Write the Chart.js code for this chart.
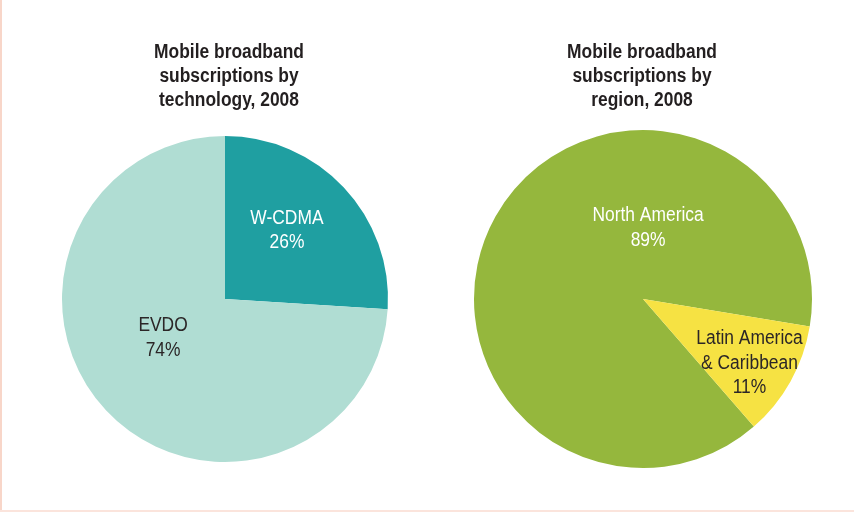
<!DOCTYPE html>
<html>
<head>
<meta charset="utf-8">
<script src="https://cdn.jsdelivr.net/npm/chart.js@4"></script>
<style>
  html, body { margin: 0; padding: 0; background: #fff; }
  body { width: 854px; height: 513px; position: relative; overflow: hidden; }
  .box-left { position: absolute; left: 0; top: 0; width: 2px; height: 511px; background: #f8d6c9; }
  .box-bottom { position: absolute; left: 0; top: 510px; width: 854px; height: 2px; background: #fbe4dc; }
  #techWrap { position: absolute; left: 0; top: 0; width: 450px; height: 513px; }
  #regionWrap { position: absolute; left: 431px; top: 0; width: 424px; height: 513px; }
</style>
</head>
<body>
<div class="box-left"></div>
<div class="box-bottom"></div>
<div id="techWrap"><canvas id="techChart"></canvas></div>
<div id="regionWrap"><canvas id="regionChart"></canvas></div>

<script>
// datos de los gráficos
const techLabels = ['W-CDMA', 'EVDO'];
const techValues = [26, 74];
const regionLabels = ['North America', 'Latin America\n& Caribbean'];
const regionValues = [89, 11];

const FONT = '"Liberation Sans", Arial, sans-serif';
const SQUEEZE = 0.87; // la fuente original es condensada

// dibuja texto centrado y estrechado horizontalmente
function narrowText(ctx, text, x, y) {
    ctx.save();
    ctx.translate(x, y);
    ctx.scale(SQUEEZE, 1);
    ctx.fillText(text, 0, 0);
    ctx.restore();
}

// títulos y etiquetas dentro de cada sector (desplazamiento relativo al radio)
const narrowLabels = {
    id: 'narrowLabels',
    afterDatasetsDraw(chart, args, opts) {
        const ctx = chart.ctx;
        const arc = chart.getDatasetMeta(0).data[0];
        const cx = arc.x, cy = arc.y, r = arc.outerRadius;
        const ds = chart.data.datasets[0];
        ctx.save();
        ctx.textAlign = 'center';
        ctx.textBaseline = 'middle';

        // título
        ctx.font = 'bold 20px ' + FONT;
        ctx.fillStyle = '#231f20';
        opts.title.forEach(function(line, k) {
            narrowText(ctx, line, chart.width / 2 + opts.titleDx, opts.titleY + k * 24);
        });

        // etiquetas
        ctx.font = '20px ' + FONT;
        chart.data.labels.forEach(function(label, i) {
            const lines = label.split('\n').concat([ds.data[i] + '%']);
            const off = opts.offsets[i];
            const x = cx + off[0] * r;
            const y = cy + off[1] * r;
            const lh = 24.5;
            ctx.fillStyle = opts.colors[i];
            lines.forEach(function(line, k) {
                narrowText(ctx, line, x, y + (k - (lines.length - 1) / 2) * lh);
            });
        });
        ctx.restore();
    }
};

function makePie(id, labels, values, colors, rotation, padTop, padBottom, labelOpts) {
    return new Chart(document.getElementById(id).getContext('2d'), {
        type: 'pie',
        data: {
            labels: labels,
            datasets: [{
                data: values,
                backgroundColor: colors,
                borderWidth: 0
            }]
        },
        options: {
            responsive: true,
            maintainAspectRatio: false,
            animation: false,
            rotation: rotation,
            layout: { padding: { top: padTop, bottom: padBottom, left: 0, right: 0 } },
            plugins: {
                legend: { display: false },
                tooltip: { enabled: false },
                title: { display: false },
                narrowLabels: labelOpts
            }
        },
        plugins: [narrowLabels]
    });
}

makePie('techChart', techLabels, techValues, ['#1f9fa1', '#b0ddd3'], 0, 136, 51, {
    title: ['Mobile broadband', 'subscriptions by', 'technology, 2008'],
    titleY: 52, titleDx: 4,
    offsets: [[0.38, -0.42], [-0.38, 0.24]],
    colors: ['#ffffff', '#2b2627']
});

makePie('regionChart', regionLabels, regionValues, ['#95b73d', '#f6e243'], 139, 130, 45, {
    title: ['Mobile broadband', 'subscriptions by', 'region, 2008'],
    titleY: 52, titleDx: -1,
    offsets: [[0.03, -0.42], [0.63, 0.38]],
    colors: ['#ffffff', '#2b2627']
});
</script>
</body>
</html>
